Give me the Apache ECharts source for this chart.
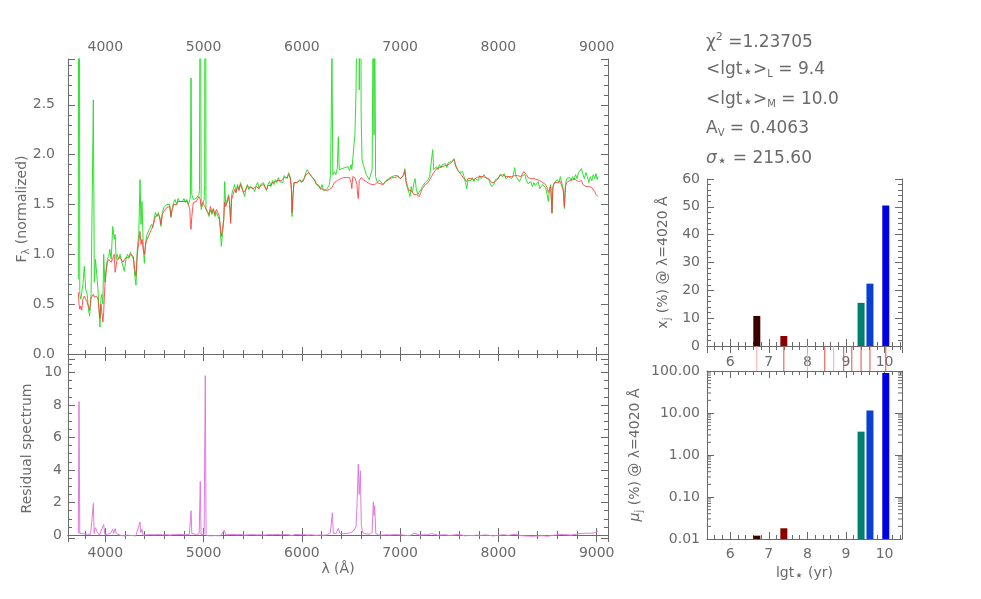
<!DOCTYPE html>
<html><head><meta charset="utf-8">
<script src="https://cdn.jsdelivr.net/npm/echarts@6/dist/echarts.min.js"></script>
<style>html,body{margin:0;padding:0;background:#fff}#c{width:981px;height:599px}</style>
</head><body><div id="c"></div><script>
// ---------- DATA ----------
const wave = [
3725,3732,3740,3750,3760,3772,3786,3800,3815,3828,
3840,3855,3868,3878,3888,3900,3912,3925,3935,3945,
3955,3965,3975,3983,3995,4008,4020,4035,4045,4060,
4075,4090,4100,4110,4120,4135,4150,4165,4180,4193,
4210,4225,4240,4255,4270,4285,4300,4312,4325,4340,
4353,4363,4373,4385,4397,4410,4425,4440,4455,4470,
4482,4495,4510,4525,4540,4555,4566,4580,4595,4610,
4625,4640,4655,4668,4680,4695,4710,4725,4740,4755,
4770,4785,4800,4815,4830,4845,4860,4866,4872,4880,
4895,4910,4925,4940,4952,4958,4966,4975,4990,5005,
5011,5017,5024,5040,5055,5070,5085,5100,5115,5130,
5145,5160,5170,5180,5192,5205,5214,5225,5240,5255,
5265,5275,5285,5300,5315,5330,5345,5360,5375,5390,
5405,5418,5430,5445,5460,5475,5490,5505,5520,5535,
5550,5565,5580,5595,5610,5625,5640,5655,5670,5685,
5700,5715,5730,5745,5760,5775,5790,5805,5820,5835,
5850,5865,5880,5893,5900,5910,5920,5935,5950,5965,
5980,5995,6010,6025,6040,6055,6070,6085,6100,6115,
6130,6145,6160,6175,6190,6205,6220,6235,6250,6265,
6280,6292,6306,6315,6330,6345,6360,6371,6380,6395,
6410,6425,6440,6455,6470,6485,6500,6508,6518,6530,
6540,6550,6560,6567,6574,6584,6595,6603,6612,6625,
6640,6655,6670,6685,6700,6715,6727,6734,6741,6750,
6765,6780,6795,6810,6825,6840,6855,6870,6885,6900,
6915,6930,6945,6960,6975,6990,7005,7020,7035,7048,
7060,7075,7090,7100,7112,7125,7140,7152,7165,7180,
7195,7210,7225,7240,7255,7270,7285,7300,7318,7331,
7342,7355,7370,7385,7400,7415,7430,7445,7460,7475,
7490,7505,7520,7535,7548,7560,7575,7590,7605,7620,
7635,7650,7665,7677,7690,7705,7720,7735,7750,7765,
7780,7795,7810,7825,7840,7855,7870,7885,7900,7915,
7930,7941,7955,7970,7985,8000,8015,8030,8045,8060,
8075,8090,8105,8120,8135,8150,8165,8180,8195,8213,
8228,8243,8258,8270,8285,8300,8315,8330,8345,8360,
8375,8390,8405,8420,8435,8450,8465,8480,8495,8508,
8520,8532,8545,8555,8570,8586,8600,8615,8630,8645,
8660,8671,8682,8695,8710,8725,8740,8755,8770,8785,
8800,8815,8830,8845,8860,8875,8890,8905,8920,8935,
8950,8965,8980,8993,9005,9013];
const observed = [
0.75,8.7,0.6,0.55,0.62,0.7,0.88,0.65,0.6,0.45,
0.38,0.6,0.62,2.55,0.72,0.95,0.8,0.65,0.45,0.27,
0.55,0.6,0.5,1.0,0.72,0.85,0.95,0.98,1.05,0.95,
1.28,1.15,1.2,0.95,1.0,0.95,1.0,0.93,0.88,0.83,
0.95,1.0,0.97,1.02,1.0,0.95,0.78,0.69,1.05,1.2,
1.75,1.3,1.53,1.1,0.91,1.12,1.2,1.18,1.27,1.3,
1.27,1.35,1.42,1.38,1.42,1.35,1.28,1.42,1.47,1.45,
1.5,1.48,1.5,1.37,1.45,1.52,1.55,1.5,1.56,1.53,
1.55,1.53,1.56,1.52,1.55,1.5,1.55,1.6,2.77,1.6,
1.55,1.53,1.56,1.58,1.6,1.65,4.85,1.45,1.5,1.55,
1.7,11.3,1.45,1.42,1.38,1.45,1.4,1.45,1.38,1.42,
1.4,1.35,1.25,1.08,1.2,1.35,1.73,1.5,1.55,1.6,
1.5,1.35,1.6,1.65,1.7,1.62,1.7,1.65,1.72,1.68,
1.62,1.58,1.66,1.7,1.65,1.68,1.7,1.66,1.63,1.69,
1.72,1.66,1.7,1.68,1.72,1.67,1.64,1.7,1.73,1.68,
1.74,1.7,1.75,1.72,1.77,1.73,1.75,1.72,1.79,1.8,
1.76,1.82,1.78,1.7,1.38,1.6,1.72,1.74,1.72,1.74,
1.75,1.72,1.74,1.77,1.82,1.85,1.82,1.8,1.78,1.76,
1.74,1.7,1.72,1.68,1.65,1.7,1.64,1.62,1.65,1.63,
1.7,1.8,3.04,1.8,1.83,1.8,1.86,2.18,1.85,1.83,
1.86,1.84,1.87,1.85,1.88,1.84,1.9,1.85,1.95,2.1,
2.2,2.6,3.3,5.0,5.95,2.65,5.7,2.4,1.95,1.9,
1.85,1.8,1.78,1.75,1.74,1.85,3.75,2.2,3.5,1.78,
1.73,1.72,1.74,1.72,1.7,1.72,1.74,1.75,1.76,1.77,
1.78,1.76,1.79,1.78,1.79,1.78,1.76,1.78,1.8,1.86,
1.72,1.66,1.62,1.58,1.68,1.62,1.72,1.76,1.65,1.6,
1.58,1.65,1.68,1.7,1.72,1.74,1.75,1.78,1.8,2.05,
1.85,1.86,1.88,1.85,1.9,1.87,1.9,1.88,1.91,1.87,
1.92,1.9,1.93,1.94,1.96,1.9,1.86,1.84,1.82,1.81,
1.83,1.78,1.72,1.66,1.74,1.76,1.74,1.77,1.73,1.76,
1.78,1.74,1.79,1.76,1.78,1.8,1.77,1.79,1.75,1.74,
1.68,1.66,1.7,1.75,1.73,1.76,1.8,1.82,1.78,1.81,
1.76,1.74,1.78,1.8,1.76,1.79,1.87,1.78,1.76,1.73,
1.76,1.79,1.78,1.8,1.74,1.71,1.7,1.73,1.68,1.72,
1.69,1.7,1.73,1.66,1.68,1.7,1.68,1.67,1.6,1.53,
1.66,1.7,1.41,1.68,1.72,1.73,1.75,1.72,1.78,1.8,
1.65,1.46,1.7,1.76,1.75,1.77,1.74,1.78,1.75,1.8,
1.76,1.82,1.84,1.86,1.8,1.76,1.82,1.78,1.72,1.78,
1.74,1.8,1.76,1.81,1.75,1.78];
const model = [
0.62,0.5,0.45,0.48,0.44,0.55,0.58,0.55,0.52,0.48,
0.44,0.56,0.55,0.6,0.57,0.58,0.58,0.55,0.45,0.36,
0.5,0.48,0.32,0.42,0.68,0.82,0.92,0.95,0.97,0.92,
0.96,1.0,0.82,0.8,0.95,0.93,0.97,0.95,0.92,0.9,
0.97,0.98,0.96,1.0,1.02,0.98,0.85,0.78,1.0,1.12,
1.23,1.1,1.15,1.05,1.0,1.1,1.15,1.17,1.22,1.25,
1.27,1.32,1.38,1.37,1.4,1.37,1.3,1.4,1.43,1.45,
1.47,1.47,1.48,1.38,1.45,1.5,1.52,1.5,1.53,1.52,
1.53,1.52,1.53,1.52,1.53,1.5,1.45,1.3,1.25,1.38,
1.52,1.5,1.53,1.55,1.58,1.6,1.55,1.48,1.52,1.5,
1.48,1.47,1.47,1.43,1.4,1.48,1.42,1.46,1.4,1.45,
1.42,1.38,1.28,1.18,1.25,1.35,1.52,1.48,1.52,1.58,
1.5,1.31,1.55,1.6,1.65,1.62,1.68,1.64,1.7,1.66,
1.62,1.6,1.65,1.68,1.66,1.67,1.69,1.66,1.64,1.68,
1.7,1.66,1.69,1.68,1.7,1.68,1.65,1.69,1.71,1.69,
1.72,1.7,1.73,1.72,1.74,1.73,1.74,1.73,1.77,1.79,
1.77,1.8,1.77,1.65,1.42,1.6,1.72,1.73,1.72,1.73,
1.74,1.72,1.73,1.76,1.8,1.82,1.82,1.8,1.78,1.77,
1.75,1.71,1.72,1.69,1.66,1.68,1.65,1.63,1.64,1.63,
1.65,1.66,1.67,1.68,1.72,1.73,1.74,1.76,1.74,1.76,
1.78,1.77,1.78,1.77,1.79,1.77,1.72,1.66,1.78,1.78,
1.77,1.76,1.7,1.6,1.56,1.74,1.76,1.77,1.76,1.75,
1.74,1.73,1.72,1.71,1.71,1.7,1.7,1.7,1.7,1.71,
1.72,1.7,1.71,1.72,1.7,1.71,1.73,1.74,1.75,1.76,
1.77,1.76,1.77,1.77,1.78,1.77,1.76,1.77,1.79,1.84,
1.74,1.68,1.64,1.63,1.64,1.62,1.6,1.61,1.6,1.58,
1.58,1.62,1.66,1.68,1.7,1.71,1.72,1.74,1.78,1.8,
1.82,1.84,1.86,1.86,1.87,1.87,1.88,1.88,1.89,1.88,
1.9,1.9,1.92,1.93,1.95,1.91,1.87,1.84,1.83,1.8,
1.79,1.76,1.75,1.73,1.76,1.75,1.76,1.76,1.75,1.76,
1.77,1.76,1.78,1.77,1.78,1.78,1.77,1.78,1.76,1.75,
1.72,1.71,1.72,1.74,1.75,1.76,1.79,1.81,1.8,1.8,
1.78,1.77,1.78,1.79,1.78,1.78,1.79,1.8,1.79,1.77,
1.78,1.8,1.83,1.83,1.8,1.77,1.76,1.76,1.75,1.76,
1.77,1.75,1.76,1.74,1.73,1.72,1.71,1.7,1.67,1.62,
1.65,1.68,1.42,1.68,1.72,1.73,1.72,1.72,1.73,1.72,
1.64,1.48,1.68,1.72,1.74,1.74,1.75,1.75,1.76,1.75,
1.74,1.73,1.72,1.74,1.7,1.68,1.68,1.69,1.68,1.66,
1.67,1.66,1.63,1.6,1.59,1.58];
const residWave = [
3725,3732,3740,3760,3790,3820,3850,3870,3878,3886,
3900,3915,3940,3960,3983,3995,4020,4050,4075,4085,
4100,4110,4130,4160,4190,4220,4250,4280,4310,4330,
4353,4360,4373,4385,4420,4460,4500,4540,4580,4620,
4660,4700,4720,4740,4780,4820,4855,4872,4880,4900,
4930,4955,4966,4974,4990,5005,5017,5025,5050,5080,
5110,5140,5170,5190,5211,5225,5260,5300,5340,5380,
5420,5460,5500,5540,5580,5620,5660,5700,5740,5780,
5820,5860,5900,5940,5980,6020,6060,6100,6140,6180,
6220,6260,6290,6310,6320,6350,6371,6385,6420,6460,
6500,6530,6550,6560,6574,6583,6595,6605,6620,6650,
6690,6715,6727,6733,6741,6752,6780,6820,6860,6900,
6940,6980,7020,7060,7100,7140,7160,7200,7240,7280,
7320,7331,7345,7380,7420,7460,7500,7540,7580,7620,
7660,7700,7740,7780,7820,7860,7900,7940,7980,8020,
8060,8100,8140,8180,8220,8260,8300,8340,8380,8420,
8460,8500,8540,8580,8620,8660,8700,8740,8780,8820,
8860,8900,8940,8980,9000,9013];
const residual = [
0.1,8.2,0.1,0.12,0.08,0.05,0.06,0.1,1.95,0.1,
0.45,0.2,0.0,0.05,0.65,0.05,0.05,0.08,0.35,0.1,
0.4,0.1,0.0,-0.03,-0.05,0.0,-0.02,-0.03,-0.05,0.02,
0.8,0.15,0.35,0.0,0.02,0.03,0.02,0.03,0.02,0.03,
0.0,0.05,0.12,0.04,0.03,0.02,0.05,1.5,0.1,0.02,
0.03,0.1,3.3,0.0,-0.02,0.05,9.8,0.0,-0.04,-0.05,
-0.03,-0.04,-0.05,-0.03,0.3,0.02,0.03,0.04,0.02,0.03,
0.0,0.02,0.03,0.01,0.02,0.0,0.03,0.02,0.04,0.02,
0.03,0.02,-0.02,0.04,0.02,0.03,0.0,0.02,-0.02,0.0,
-0.01,0.02,0.15,1.37,0.12,0.1,0.42,0.12,0.08,0.1,
0.15,0.3,0.5,1.6,4.36,2.5,3.95,0.6,0.15,0.08,
0.05,0.15,2.05,1.2,1.8,0.1,0.02,0.0,0.02,0.01,
0.03,0.02,0.01,-0.02,-0.04,0.12,0.05,0.0,0.02,0.02,
0.1,0.2,0.05,0.0,0.01,0.02,-0.02,0.0,0.03,0.01,
-0.05,-0.02,-0.03,0.0,-0.02,0.01,-0.01,-0.05,-0.03,0.0,
0.02,-0.02,0.03,0.05,-0.03,-0.05,-0.06,-0.07,-0.06,-0.05,
-0.04,-0.08,-0.02,0.0,0.05,0.03,0.02,0.0,0.04,0.1,
0.1,0.12,0.1,0.15,0.2,0.22];
// base ages (log yr) marked in the band
const baseAges = [6.69, 7.39, 8.0, 8.45, 8.68, 8.94, 9.15, 9.39, 9.62, 10.03];
// populated components
const popAges = [6.69, 7.39, 9.39, 9.62, 10.03];
const lightFrac = [10.8, 3.6, 15.5, 22.4, 50.5];   // x_j (%)
const massFrac = [0.012, 0.018, 3.6, 11.5, 90];    // mu_j (%)
const statLines = [
  '{t|χ}{sup|2}{t| =1.23705}',
  '{t|<lgt}{st|⋆}{t|>}{sub|L}{t| = 9.4}',
  '{t|<lgt}{st|⋆}{t|>}{sub|M}{t| = 10.0}',
  '{t|A}{sub|V}{t| = 0.4063}',
  '{it|σ}{st|⋆}{t| = 215.60}'
];

// ---------- STYLE ----------
const AX = '#6a6a6a', TX = '#6a6a6a', FF = 'DejaVu Sans';
const popColors = ['#3a0000', '#8a0000', '#007f70', '#0b3fd0', '#0000e4'];
const baseLineColors = ['#f6a8a8', '#e84a4a', '#f6a8a8', '#e84a4a', '#f6a8a8', '#e84a4a', '#e84a4a', '#e84a4a', '#e84a4a', '#e84a4a'];

const pair = (xs, ys) => xs.slice(0, Math.min(xs.length, ys.length)).map((x, i) => [x, ys[i]]);

function ax(base, o) {
  return Object.assign({
    type: 'value', scale: false, nameMoveOverlap: false,
    axisLine: {show: true, lineStyle: {color: AX, width: 1}},
    axisTick: {show: true, inside: true, length: 7, lineStyle: {color: AX}},
    minorTick: {show: true, splitNumber: 5, length: 4, lineStyle: {color: AX}},
    splitLine: {show: false},
    axisLabel: {show: false},
    nameTextStyle: {color: TX, fontFamily: FF, fontSize: 14}
  }, base, o || {});
}
const lab = (m, extra) => Object.assign({show: true, color: TX, fontFamily: FF, fontSize: 14, margin: m, showMinLabel: false, showMaxLabel: false, formatter: v => String(v)}, extra || {});

const WMIN = 3620, WMAX = 9115;
const AMIN = 5.4, AMAX = 10.45;
const starRich = {s: {fontSize: 15, color: TX, padding: [6, 0, 0, 0]}};

const xAxis = [
  ax({gridIndex: 0, position: 'top', min: WMIN, max: WMAX}, {axisLabel: lab(5)}),
  ax({gridIndex: 0, position: 'bottom', min: WMIN, max: WMAX}),
  ax({gridIndex: 1, position: 'top', min: WMIN, max: WMAX}),
  ax({gridIndex: 1, position: 'bottom', min: WMIN, max: WMAX}, {axisLabel: lab(8), name: 'λ (Å)', nameLocation: 'middle', nameGap: 24}),
  ax({gridIndex: 2, position: 'bottom', min: AMIN, max: AMAX}),
  ax({gridIndex: 2, position: 'top', min: AMIN, max: AMAX}),
  ax({gridIndex: 3, position: 'bottom', min: AMIN, max: AMAX}, {axisLine: {show: false}, axisTick: {show: false}, minorTick: {show: false}, axisLabel: lab(2, {inside: true})}),
  ax({gridIndex: 4, position: 'top', min: AMIN, max: AMAX}),
  ax({gridIndex: 4, position: 'bottom', min: AMIN, max: AMAX}, {axisLabel: lab(8), name: 'lgt{s|⋆} (yr)', nameLocation: 'middle', nameGap: 24,
      nameTextStyle: {color: TX, fontFamily: FF, fontSize: 14, rich: starRich}})
];
const yAxis = [
  ax({gridIndex: 0, position: 'left', min: -0.05, max: 2.96}, {axisLabel: lab(13, {formatter: v => Number(v).toFixed(1)}), name: 'F{s|λ} (normalized)', nameLocation: 'middle', nameGap: 37,
      nameTextStyle: {color: TX, fontFamily: FF, fontSize: 14, rich: {s: {fontSize: 10, color: TX, padding: [7, 0, 0, 0]}}}}),
  ax({gridIndex: 0, position: 'right', min: -0.05, max: 2.96}),
  ax({gridIndex: 1, position: 'left', min: -0.18, max: 10.82}, {minorTick: {show: true, splitNumber: 4, length: 4, lineStyle: {color: AX}}, axisLabel: lab(6), name: 'Residual spectrum', nameLocation: 'middle', nameGap: 34}),
  ax({gridIndex: 1, position: 'right', min: -0.18, max: 10.82}, {minorTick: {show: true, splitNumber: 4, length: 4, lineStyle: {color: AX}}}),
  ax({gridIndex: 2, position: 'left', min: 0, max: 60, interval: 10}, {axisLabel: lab(7, {showMinLabel: true, showMaxLabel: true}), name: 'x{s|j} (%) @ λ=4020 Å', nameLocation: 'middle', nameGap: 35,
      nameTextStyle: {color: TX, fontFamily: FF, fontSize: 14, rich: {s: {fontSize: 10, color: TX, padding: [7, 0, 0, 0]}}}}),
  ax({gridIndex: 2, position: 'right', min: 0, max: 60, interval: 10}),
  {type: 'value', gridIndex: 3, min: 0, max: 1, show: false},
  ax({gridIndex: 4, position: 'left', type: 'log', logBase: 10, min: 0.01, max: 100}, {minorTick: {show: false},
      axisLabel: lab(7, {showMinLabel: true, showMaxLabel: true, formatter: v => Number(v).toFixed(2)}),
      name: '{i|μ}{s|j} (%) @ λ=4020 Å', nameLocation: 'middle', nameGap: 63,
      nameTextStyle: {color: TX, fontFamily: FF, fontSize: 14, rich: {i: {fontStyle: 'italic', fontSize: 14, color: TX}, s: {fontSize: 10, color: TX, padding: [7, 0, 0, 0]}}}}),
  ax({gridIndex: 4, position: 'right', type: 'log', logBase: 10, min: 0.01, max: 100}, {minorTick: {show: false}})
];

const grid = [
  {left: 68, top: 59, width: 540, height: 300},
  {left: 68, top: 359, width: 540, height: 179},
  {left: 707, top: 179, width: 195, height: 167},
  {left: 707, top: 346, width: 195, height: 25},
  {left: 707, top: 371, width: 195, height: 168}
];

function barItem(yMinVal) {
  return function (params, api) {
    const x = api.value(0), v = api.value(1);
    const top = api.coord([x, v]);
    const base = api.coord([x, yMinVal]);
    const w = 7;
    return {type: 'rect', shape: {x: top[0] - w / 2, y: top[1], width: w, height: base[1] - top[1]},
            style: {fill: popColors[params.dataIndex]}};
  };
}

const series = [
  {type: 'line', xAxisIndex: 0, yAxisIndex: 0, data: pair(wave, observed), showSymbol: false, symbol: 'none',
   lineStyle: {color: '#2ee02e', width: 1}, clip: true, silent: true, z: 2},
  {type: 'line', xAxisIndex: 0, yAxisIndex: 0, data: pair(wave, model), showSymbol: false, symbol: 'none',
   lineStyle: {color: '#ff3a3a', width: 1, opacity: 0.85}, clip: true, silent: true, z: 3},
  {type: 'line', xAxisIndex: 3, yAxisIndex: 2, data: pair(residWave, residual), showSymbol: false, symbol: 'none',
   lineStyle: {color: '#e07ae0', width: 1}, clip: true, silent: true},
  {type: 'custom', xAxisIndex: 4, yAxisIndex: 4, data: pair(popAges, lightFrac), renderItem: barItem(0), clip: true, silent: true},
  {type: 'custom', xAxisIndex: 8, yAxisIndex: 7, data: pair(popAges, massFrac), renderItem: barItem(0.01), clip: true, silent: true},
  {type: 'custom', xAxisIndex: 6, yAxisIndex: 6, data: baseAges.map(a => [a, 0]), silent: true,
   renderItem: function (params, api) {
     const x = api.coord([api.value(0), 0])[0];
     const cs = params.coordSys;
     return {type: 'line', shape: {x1: x, y1: cs.y, x2: x, y2: cs.y + cs.height},
             style: {stroke: baseLineColors[params.dataIndex], lineWidth: 1}};
   }}
];

const statRich = {
  t: {fontSize: 17, fontFamily: FF, color: TX},
  it: {fontSize: 17, fontFamily: FF, color: TX, fontStyle: 'italic'},
  sup: {fontSize: 11, fontFamily: FF, color: TX, padding: [0, 0, 10, 0]},
  sub: {fontSize: 10, fontFamily: FF, color: TX, padding: [10, 0, 0, 0]},
  st: {fontSize: 17, fontFamily: FF, color: TX, padding: [7, 0, 0, 0]}
};
const statY = [43, 72, 102, 131, 161];
const graphicEls = statLines.map((s, i) => ({
  type: 'text', id: 'stat' + i, left: 706, top: statY[i] - 11,
  style: {text: s, rich: statRich, fill: TX, fontFamily: FF, fontSize: 17}
}));

const chart = echarts.init(document.getElementById('c'), null, {renderer: 'canvas', width: 981, height: 599});
chart.setOption({
  animation: false, backgroundColor: '#fff',
  grid, xAxis, yAxis, series,
  graphic: {elements: graphicEls}
});

// log-axis minor ticks (2..9 per decade) positioned with the axis scale
const minor = [];
const gx0 = 707, gx1 = 902;
for (let d = -2; d < 2; d++) {
  for (let m = 2; m <= 9; m++) {
    const v = m * Math.pow(10, d);
    const y = chart.convertToPixel({yAxisIndex: 7}, v);
    minor.push({type: 'line', id: 'lm' + d + '_' + m, shape: {x1: gx0, y1: y, x2: gx0 + 4, y2: y}, style: {stroke: AX, lineWidth: 1}, silent: true});
    minor.push({type: 'line', id: 'rm' + d + '_' + m, shape: {x1: gx1 - 4, y1: y, x2: gx1, y2: y}, style: {stroke: AX, lineWidth: 1}, silent: true});
  }
}
chart.setOption({graphic: {elements: graphicEls.concat(minor)}});
</script></body></html>
